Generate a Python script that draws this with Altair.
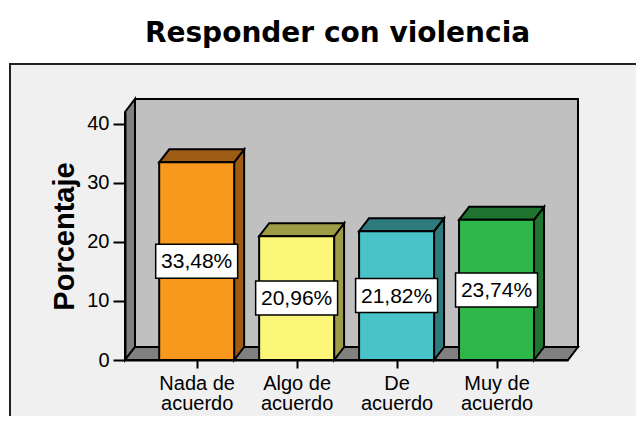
import json
import altair as alt
import pandas as pd

# ---------------- data ----------------
categories = ["Nada de acuerdo", "Algo de acuerdo", "De acuerdo", "Muy de acuerdo"]
label_lines = [["Nada de", "acuerdo"], ["Algo de", "acuerdo"], ["De", "acuerdo"], ["Muy de", "acuerdo"]]
percentages = [33.48, 20.96, 21.82, 23.74]
front_colors = ["#F8981D", "#FBF677", "#48C3C7", "#2EB84A"]
shade_colors = ["#9C5C14", "#9F9C47", "#2E7B7D", "#1F7530"]
y_ticks = [0, 10, 20, 30, 40]

# ---------------- geometry of the pseudo-3D frame (scale units) ----------------
X_MIN, X_MAX = -0.717, 3.715
Y_MAX = 42
HALF = 0.375      # half bar width
DX, DY = 0.10, 2.2  # depth offset
BOX_HALF = 0.41

W, H = 443, 248

pos = list(range(len(categories)))
bars = pd.DataFrame({
    "cat": categories,
    "pos": pos,
    "value": percentages,
    "front": front_colors,
})
bars["left"] = bars["pos"] - HALF
bars["right"] = bars["pos"] + HALF
bars["base"] = 0
bars["mid"] = bars["value"] / 2
bars["bl"] = bars["pos"] - BOX_HALF
bars["br"] = bars["pos"] + BOX_HALF
bars["label"] = [f"{v:.2f}".replace(".", ",") + "%" for v in percentages]

side_rows, top_rows = [], []
for i, v, c in zip(pos, percentages, shade_colors):
    side_rows.append({"face": f"s{i}", "x": i + HALF, "y": v, "y2": 0, "fill": c})
    side_rows.append({"face": f"s{i}", "x": i + HALF + DX, "y": v + DY, "y2": DY, "fill": c})
    top_rows.append({"face": f"t{i}", "y": v, "x": i - HALF, "x2": i + HALF, "fill": c})
    top_rows.append({"face": f"t{i}", "y": v + DY, "x": i - HALF + DX, "x2": i + HALF + DX, "fill": c})
sides = pd.DataFrame(side_rows)
tops = pd.DataFrame(top_rows)

left_wall = pd.DataFrame([
    {"x": X_MIN, "y": Y_MAX, "y2": 0},
    {"x": X_MIN + DX, "y": Y_MAX + DY, "y2": DY},
])
floor = pd.DataFrame([
    {"y": 0, "x": X_MIN, "x2": X_MAX},
    {"y": DY, "x": X_MIN + DX, "x2": X_MAX + DX},
])
back_wall = pd.DataFrame([{"x": X_MIN + DX, "x2": X_MAX + DX, "y": DY, "y2": Y_MAX + DY}])
panel = pd.DataFrame([{"k": 1}])

# ---------------- scales / axes ----------------
XS = alt.Scale(domain=[X_MIN, X_MAX], nice=False, zero=False)
YS = alt.Scale(domain=[0, Y_MAX], nice=False, zero=True)

label_expr = "split(" + json.dumps(["|".join(l) for l in label_lines]) + "[round(datum.value)], '|')"

XAXIS = alt.Axis(
    values=pos, labelExpr=label_expr, title=None, grid=False,
    domain=True, domainColor="black", domainWidth=2,
    ticks=True, tickSize=8, tickColor="black", tickWidth=2,
    labelFont="Liberation Sans", labelFontSize=20, labelColor="black",
    labelPadding=5, labelLineHeight=20, labelFlush=False, labelOverlap=False,
    labelBound=False, zindex=1,
)
YAXIS = alt.Axis(
    values=y_ticks, format="d", grid=False,
    domain=True, domainColor="black", domainWidth=2,
    ticks=True, tickSize=12, tickColor="black", tickWidth=2,
    labelFont="Liberation Sans", labelFontSize=20, labelColor="black", labelPadding=4,
    title="Porcentaje", titleFont="Liberation Sans", titleFontSize=29, titleFontWeight="bold",
    titleColor="black", titleAngle=270, titleX=-52, titleY=H / 2, titleBaseline="alphabetic",
    titleAlign="center", zindex=1,
)


def X(f):
    return alt.X(f, type="quantitative", scale=XS, axis=XAXIS)


def Y(f):
    return alt.Y(f, type="quantitative", scale=YS, axis=YAXIS)


panel_layer = alt.Chart(panel).mark_rect(
    fill="#F0F0F0", stroke="#222222", strokeWidth=2
).encode(x=alt.value(-115), x2=alt.value(640), y=alt.value(-48), y2=alt.value(420))

back_layer = alt.Chart(back_wall).mark_rect(
    fill="#C0C0C0", stroke="black", strokeWidth=2
).encode(x=X("x"), x2="x2", y=Y("y"), y2="y2")

left_layer = alt.Chart(left_wall).mark_area(
    fill="#808080", stroke="black", strokeWidth=2
).encode(x=X("x"), y=Y("y"), y2="y2")

floor_layer = alt.Chart(floor).mark_area(
    orient="horizontal", fill="#808080", stroke="black", strokeWidth=2
).encode(y=Y("y"), x=X("x"), x2="x2")

side_layer = alt.Chart(sides).mark_area(
    stroke="black", strokeWidth=2
).encode(x=X("x"), y=Y("y"), y2="y2", detail="face:N", fill=alt.Fill("fill:N", scale=None))

top_layer = alt.Chart(tops).mark_area(
    orient="horizontal", stroke="black", strokeWidth=2
).encode(y=Y("y"), x=X("x"), x2="x2", detail="face:N", fill=alt.Fill("fill:N", scale=None))

front_layer = alt.Chart(bars).mark_rect(
    stroke="black", strokeWidth=2
).encode(x=X("left"), x2="right", y=Y("base"), y2="value", fill=alt.Fill("front:N", scale=None))

box_layer = alt.Chart(bars).mark_rect(
    fill="white", stroke="black", strokeWidth=1.5, yOffset=-17, y2Offset=17
).encode(x=X("bl"), x2="br", y=Y("mid"), y2="mid")

text_layer = alt.Chart(bars).mark_text(
    font="Liberation Sans", fontSize=21, color="black", align="center", baseline="middle", dy=1
).encode(x=X("pos"), y=Y("mid"), text="label:N")

chart = alt.layer(
    panel_layer, back_layer, left_layer, floor_layer,
    side_layer, top_layer, front_layer, box_layer, text_layer,
).properties(
    width=W, height=H,
    autosize=alt.AutoSizeParams(type="none"),
    padding={"left": 117, "top": 104, "right": 68, "bottom": 56},
    title=alt.TitleParams(
        "Responder con violencia", font="DejaVu Sans", fontSize=28, fontWeight="bold",
        color="black", anchor="middle", frame="group", baseline="alphabetic", offset=-7, dx=-9,
    ),
).configure_view(stroke=None).configure(background="white")

chart.save("out.html", embed_options={"renderer": "svg", "actions": False})
